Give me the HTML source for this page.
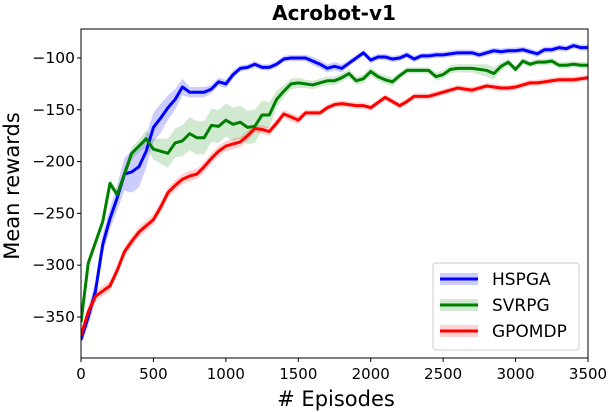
<!DOCTYPE html>
<html><head><meta charset="utf-8"><style>
body{margin:0;background:#fff}
svg{display:block;font-family:"DejaVu Sans","Liberation Sans",sans-serif}
</style></head><body>
<svg id="chart" width="608" height="412"></svg>
<script>
const episodes=[];for(let i=0;i<=70;i++)episodes.push(i*50);
const hspga=[-372,-350,-325,-280,-255,-235,-212,-210,-205,-190,-167,-158,-148,-140,-128,-133,-133,-133,-130,-123,-125,-116,-110,-109,-106,-109,-109,-106,-101,-100,-100,-100,-103,-106,-110,-108,-110,-105,-100,-95,-102,-99,-99,-101,-100,-97,-101,-98,-98,-97,-97,-96,-95,-95,-95,-97,-95,-93,-94,-93,-93,-92,-94,-96,-92,-92,-90,-91,-88,-90,-90];
const svrpg=[-355,-298,-278,-258,-221,-232,-212,-192,-185,-178,-188,-190,-192,-182,-180,-173,-177,-177,-165,-166,-160,-164,-162,-167,-166,-155,-155,-140,-132,-125,-124,-125,-126,-124,-122,-122,-119,-115,-122,-120,-113,-118,-121,-123,-117,-112,-112,-112,-112,-118,-116,-111,-110,-110,-110,-111,-112,-115,-108,-104,-111,-103,-106,-104,-104,-103,-107,-107,-106,-107,-107];
const gpomdp=[-368,-345,-330,-325,-320,-305,-287,-277,-268,-262,-256,-244,-230,-223,-217,-214,-212,-205,-197,-190,-185,-183,-181,-175,-168,-169,-171,-163,-154,-157,-160,-153,-153,-153,-148,-145,-144,-145,-146,-146,-148,-143,-138,-142,-146,-142,-137,-137,-137,-135,-133,-131,-129,-130,-131,-129,-127,-128,-129,-129,-128,-126,-124,-124,-123,-122,-121,-121,-121,-120,-119];
const hspgaStd=[4,8,10,10,10,12,16,20,20,16,14,14,12,10,8,5,5,5,4,4,4,4,3,3,3,3,3,3,3,3,3,3,4,4,4,4,4,3,3,3,3,3,3,3,3,3,3,3,3,3,3,3,3,3,3,3,3,3,3,3,3,3,3,3,3,3,3,3,3,3,3];
const svrpgStd=[4,4,4,4,4,4,6,6,6,8,10,12,14,14,15,16,16,16,16,16,16,16,16,16,16,14,12,8,6,5,5,4,4,4,4,4,4,4,4,4,4,4,4,4,3,3,3,3,3,4,4,4,4,4,4,5,6,6,4,3,3,3,3,3,3,3,3,3,3,3,3];
const gpomdpStd=[4,5,5,5,5,5,5,5,5,5,5,5,5,5,5,5,5,5,5,5,5,5,5,5,4,4,4,4,4,4,4,3,3,3,3,3,3,3,3,3,3,3,3,3,3,3,3,3,3,3,3,3,3,3,3,3,3,3,3,3,3,3,3,3,3,3,3,3,3,3,3];
const xTicks=[0,500,1000,1500,2000,2500,3000,3500];
const yTicks=[-350,-300,-250,-200,-150,-100];
const seriesNames=["HSPGA","SVRPG","GPOMDP"];

const L=81,R=588,T=29,B=358;
const xMin=0,xMax=3500,yMin=-389.6,yMax=-72;
const sx=v=>L+(v-xMin)/(xMax-xMin)*(R-L);
const sy=v=>B-(v-yMin)/(yMax-yMin)*(B-T);
const svg=document.getElementById('chart');
const NS="http://www.w3.org/2000/svg";
function mk(tag,attrs,parent){const e=document.createElementNS(NS,tag);for(const k in attrs)e.setAttribute(k,attrs[k]);(parent||svg).appendChild(e);return e;}

const clip=mk('clipPath',{id:'clip'});mk('rect',{x:L,y:T,width:R-L,height:B-T},clip);
const plot=mk('g',{'clip-path':'url(#clip)'});



const series=[[hspga,hspgaStd,'#0000ff','rgba(0,0,255,0.2)','hspga'],[svrpg,svrpgStd,'#008000','rgba(0,128,0,0.18)','svrpg'],[gpomdp,gpomdpStd,'#ff0000','rgba(255,0,0,0.18)','gpomdp']];
series.forEach(([vals,std,col,fill,nm])=>{
  let up=vals.map((v,i)=>sx(episodes[i])+','+sy(v+std[i]));
  let lo=vals.map((v,i)=>sx(episodes[i])+','+sy(v-std[i])).reverse();
  const band=mk('polygon',{points:up.concat(lo).join(' '),fill:fill,stroke:'none'},plot);
  
  
});
series.forEach(([vals,std,col,fill,nm])=>{
  const ln=mk('polyline',{points:vals.map((v,i)=>sx(episodes[i])+','+sy(v)).join(' '),fill:'none',stroke:col,'stroke-width':3,'stroke-linejoin':'round'},plot);
  
  
});

const frame=mk('rect',{x:L,y:T,width:R-L,height:B-T,fill:'none',stroke:'#000','stroke-width':1});



xTicks.forEach(t=>{
  mk('line',{x1:sx(t),x2:sx(t),y1:B,y2:B+4,stroke:'#000'});
  const tx=mk('text',{x:sx(t),y:B+21,'text-anchor':'middle','font-size':15});tx.textContent=t;
  
  
});
yTicks.forEach(t=>{
  mk('line',{x1:L-4,x2:L,y1:sy(t),y2:sy(t),stroke:'#000'});
  const tx=mk('text',{x:L-6,y:sy(t)+5,'text-anchor':'end','font-size':15.5});tx.textContent='\u2212'+Math.abs(t);
  
  
});

const title=mk('text',{x:334,y:20,'text-anchor':'middle','font-size':20,'font-weight':'bold'});title.textContent='Acrobot-v1';


const xl=mk('text',{x:336,y:406,'text-anchor':'middle','font-size':21});xl.textContent='# Episodes';


const yl=mk('text',{x:19,y:186,'text-anchor':'middle','font-size':21,transform:'rotate(-90 19 186)'});yl.textContent='Mean rewards';



const lg=mk('g',{});


mk('rect',{x:433,y:263,width:146,height:87,rx:3,fill:'#fff','fill-opacity':0.85,stroke:'#ccc'},lg);
series.forEach(([v,s,col,fill,nm],i)=>{
  const y=279+i*26;
  const e=mk('g',{},lg);
  
  
  mk('rect',{x:440,y:y-6,width:38,height:12,fill:fill},e);
  mk('line',{x1:440,x2:478,y1:y,y2:y,stroke:col,'stroke-width':3},e);
  const t=mk('text',{x:492,y:y+6,'font-size':17},e);t.textContent=seriesNames[i];
});
</script>
</body></html>
